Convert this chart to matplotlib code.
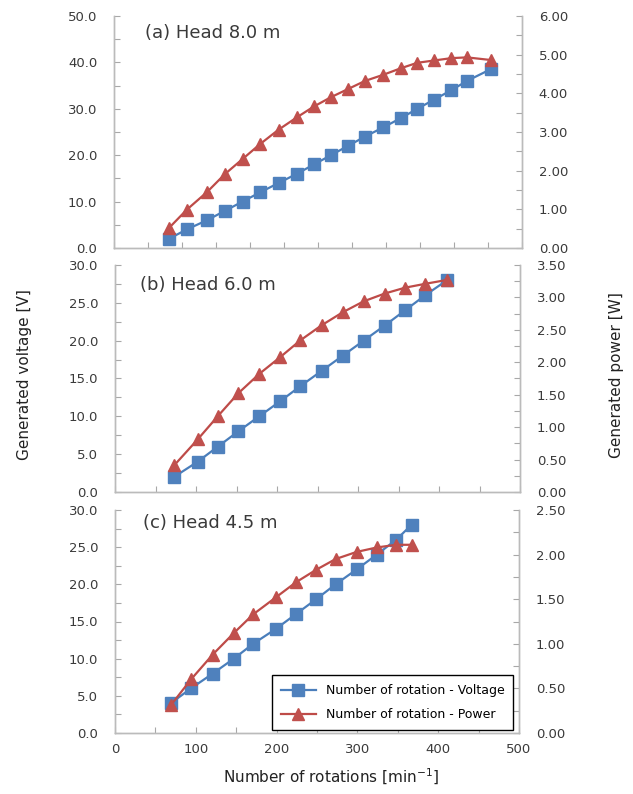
import matplotlib
matplotlib.use("Agg")
import matplotlib.pyplot as plt
from matplotlib.ticker import MultipleLocator, FormatStrFormatter, NullFormatter
from matplotlib import font_manager

# ---------------- data ----------------
a_rpm = [81, 107, 137, 163, 189, 215, 242, 269, 294, 319, 344, 369, 396, 422, 446, 471, 496, 519, 555]
a_volt = [2, 4, 6, 8, 10, 12, 14, 16, 18, 20, 22, 24, 26, 28, 30, 32, 34, 36, 38.6]
a_pow = [0.52, 0.99, 1.45, 1.91, 2.30, 2.69, 3.06, 3.38, 3.66, 3.90, 4.11, 4.32, 4.48, 4.65, 4.79, 4.85, 4.91, 4.93, 4.86]

b_rpm = [73, 102, 127, 152, 178, 204, 229, 255, 281, 307, 333, 358, 383, 410]
b_volt = [2, 4, 6, 8, 10, 12, 14, 16, 18, 20, 22, 24, 26, 28]
b_pow = [0.41, 0.81, 1.17, 1.52, 1.82, 2.08, 2.34, 2.57, 2.77, 2.94, 3.06, 3.15, 3.21, 3.27]

c_rpm = [69, 94, 121, 147, 171, 199, 224, 249, 273, 299, 324, 348, 367]
c_volt = [4, 6, 8, 10, 12, 14, 16, 18, 20, 22, 24, 26, 28]
c_pow = [0.31, 0.60, 0.88, 1.12, 1.33, 1.52, 1.69, 1.83, 1.95, 2.03, 2.08, 2.11, 2.11]

titles = ["(a) Head 8.0 m", "(b) Head 6.0 m", "(c) Head 4.5 m"]
volt_label = "Generated voltage [V]"
pow_label = "Generated power [W]"
x_label = "Number of rotations [min$^{-1}$]"
leg_v = "Number of rotation - Voltage"
leg_p = "Number of rotation - Power"

# ---------------- style ----------------
W, H = 633, 794
plt.rcParams['font.family'] = ['DejaVu Sans']
names = {f.name for f in font_manager.fontManager.ttflist}
label_family = ['Liberation Sans Narrow', 'DejaVu Sans'] if 'Liberation Sans Narrow' in names else ['DejaVu Sans']

BLUE = '#4A7EBB'
BLUE_M = '#4F81BD'
RED = '#BE4B48'
RED_M = '#C0504D'
SPINE = '#BBBBBB'
TICK = '#A8A8A8'
TXT = '#3A3A3A'

fig = plt.figure(figsize=(W / 100, H / 100), dpi=100)


def fx(px):
    return px / W


def fy(py):
    return 1 - py / H


panels = [
    dict(box=(114, 522, 16, 248), rpm=a_rpm, v=a_volt, p=a_pow, xmax=600,
         vmax=50, vmaj=10, vmin=5, pmax=6, pmaj=1, pmin=0.5, title=titles[0], tpos=(145, 33)),
    dict(box=(115, 520, 265, 492), rpm=b_rpm, v=b_volt, p=b_pow, xmax=500,
         vmax=30, vmaj=5, vmin=2.5, pmax=3.5, pmaj=0.5, pmin=0.25, title=titles[1], tpos=(140, 285)),
    dict(box=(115, 519, 510, 733), rpm=c_rpm, v=c_volt, p=c_pow, xmax=500,
         vmax=30, vmaj=5, vmin=2.5, pmax=2.5, pmaj=0.5, pmin=0.25, title=titles[2], tpos=(143, 523)),
]

for i, pn in enumerate(panels):
    l, r, t, b = pn['box']
    ax = fig.add_axes([fx(l), fy(b), (r - l) / W, (b - t) / H])
    ax2 = ax.twinx()

    hv, = ax.plot(pn['rpm'], pn['v'], color=BLUE, lw=1.6, marker='s', ms=8.3,
                  mfc=BLUE_M, mec=BLUE_M, zorder=3, label=leg_v)
    hp, = ax2.plot(pn['rpm'], pn['p'], color=RED, lw=1.6, marker='^', ms=9,
                   mfc=RED_M, mec=RED_M, zorder=3, label=leg_p)

    ax.set_xlim(0, pn['xmax'])
    ax.set_ylim(0, pn['vmax'])
    ax2.set_ylim(0, pn['pmax'])

    ax.yaxis.set_major_locator(MultipleLocator(pn['vmaj']))
    ax.yaxis.set_minor_locator(MultipleLocator(pn['vmin']))
    ax.yaxis.set_major_formatter(FormatStrFormatter('%.1f'))
    ax2.yaxis.set_major_locator(MultipleLocator(pn['pmaj']))
    ax2.yaxis.set_minor_locator(MultipleLocator(pn['pmin']))
    ax2.yaxis.set_major_formatter(FormatStrFormatter('%.2f'))

    if i == 2:
        ax.xaxis.set_major_locator(MultipleLocator(100))
        ax.xaxis.set_minor_locator(MultipleLocator(50))
        ax.xaxis.set_major_formatter(FormatStrFormatter('%d'))
    else:
        ax.xaxis.set_major_locator(MultipleLocator(50))
        ax.xaxis.set_major_formatter(NullFormatter())

    for a in (ax, ax2):
        a.spines['top'].set_visible(False)
        for s in ('left', 'right', 'bottom'):
            a.spines[s].set_color(SPINE)
            a.spines[s].set_linewidth(1.0)
        a.tick_params(which='both', direction='in', length=4, width=0.8, color=TICK,
                      labelcolor=TXT, labelsize=9.5)
        a.patch.set_visible(False)
    ax.tick_params(axis='y', which='both', pad=12)
    ax2.tick_params(axis='y', which='both', pad=12)
    ax.tick_params(axis='x', which='both', pad=7)

    fig.text(fx(pn['tpos'][0]), fy(pn['tpos'][1]), pn['title'], fontsize=13,
             color=TXT, ha='left', va='center')

    if i == 2:
        fig.legend(handles=[hv, hp], loc='lower right',
                   bbox_to_anchor=(fx(513), fy(730)), bbox_transform=fig.transFigure,
                   borderaxespad=0, fontsize=9, handlelength=2.8, frameon=True,
                   fancybox=False, edgecolor='black', framealpha=1,
                   borderpad=0.7, labelspacing=0.9)

fig.text(fx(25), fy(375), volt_label, rotation=90, ha='center', va='center',
         fontsize=11, family=label_family, color='#222222')
fig.text(fx(617), fy(375), pow_label, rotation=90, ha='center', va='center',
         fontsize=11, family=label_family, color='#222222')
fig.text(fx(331), fy(777), x_label, ha='center', va='center',
         fontsize=11, family=label_family, color='#222222')

fig.savefig('out.png', dpi=100)
